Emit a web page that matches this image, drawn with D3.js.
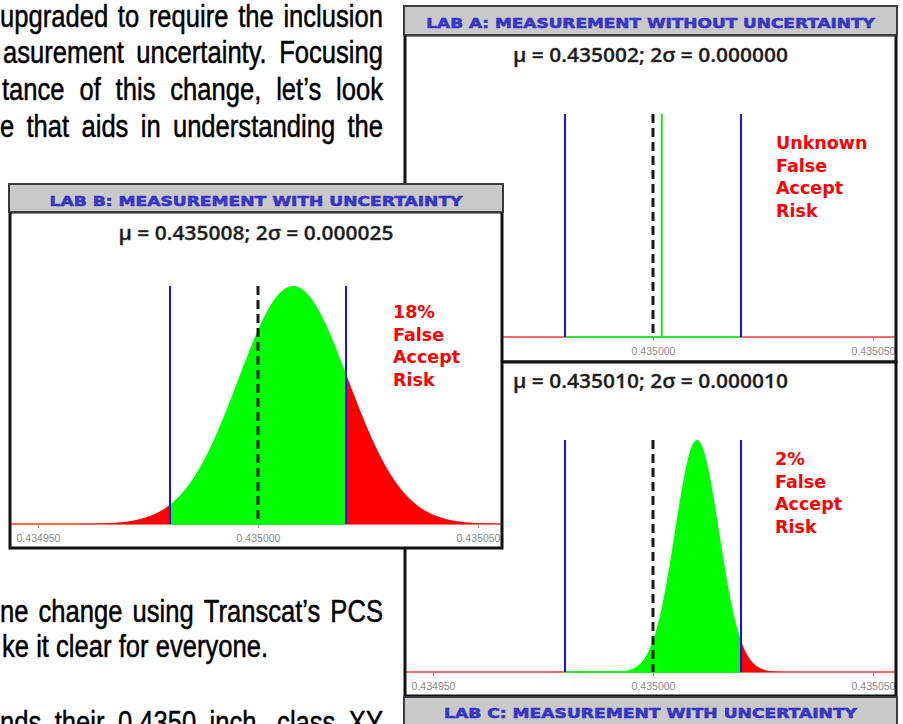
<!DOCTYPE html>
<html>
<head>
<meta charset="utf-8">
<title>Lab measurements</title>
<script src="https://cdn.jsdelivr.net/npm/d3@7"></script>
<style>
  body { margin: 0; background: #fff; }
  svg { display: block; }
</style>
</head>
<body>
<div id="page"></div>
<script>
// values
var labNames = ["LAB A: MEASUREMENT WITHOUT UNCERTAINTY",
                "LAB B: MEASUREMENT WITH UNCERTAINTY",
                "LAB C: MEASUREMENT WITH UNCERTAINTY"];
var means = [0.435002, 0.435008, 0.435010];
var twoSigmas = [0.000000, 0.000025, 0.000010];
var riskValues = ["Unknown", "18%", "2%"];
var riskWords = ["False", "Accept", "Risk"];
var specLimits = [0.434980, 0.435020];
var nominal = 0.435000;
var tickValues = [0.434950, 0.435000, 0.435050];

// text of the page behind the panels
var topLines = ["upgraded to require the inclusion",
                "asurement uncertainty. Focusing",
                "tance of this change, let\u2019s look",
                "e that aids in understanding the"];
var bottomLines = ["ne change using Transcat\u2019s PCS",
                   "ke it clear for everyone.",
                   "nds their 0.4350 inch, class XY"];

var width = 903, height = 724;

// where each panel sits on the page (A, B, C)
var layout = [
  {x: 405, w: 491, boxY: 35, boxH: 327, headY: 6, headH: 29, headBase: 28, titleBase: 62, top: 114, base: 337, riskX: 776, riskY: 149},
  {x: 10, w: 492, boxY: 212, boxH: 336, headY: 184, headH: 28, headBase: 206, titleBase: 240, top: 286, base: 524, riskX: 393, riskY: 318},
  {x: 405, w: 491, boxY: 362, boxH: 334, headY: 697, headH: 32, headBase: 718, titleBase: 388, top: 440, base: 672, riskX: 775, riskY: 465}
];

var svg = d3.select("#page").append("svg")
  .attr("width", width)
  .attr("height", height);

var defs = svg.append("defs");

/* ---------- body text, condensed and justified ---------- */
var bodyFont = "'Liberation Sans', Arial, sans-serif";
var textLayer = svg.append("g")
  .attr("fill", "#000")
  .attr("stroke", "#000").attr("stroke-width", 0.5)
  .style("font-family", bodyFont).style("font-size", "31px");

function measure(str) {
  var t = textLayer.append("text").text(str);
  var w = t.node().getComputedTextLength();
  t.remove();
  return w;
}

// squeeze factor so that the last short line spans the same width as in the picture
var sx = 266 / measure(bottomLines[1]);

function drawLine(str, x0, baseline, x1) {
  var words = str.split(" ");
  var widths = words.map(function(w) { return measure(w) * sx; });
  var gap = measure("a b") * sx - measure("ab") * sx;
  if (x1 != null) {
    gap = (x1 - x0 - d3.sum(widths)) / (words.length - 1);
  }
  var cx = x0;
  words.forEach(function(w, i) {
    textLayer.append("text")
      .attr("x", cx).attr("y", baseline)
      .attr("textLength", widths[i])
      .attr("lengthAdjust", "spacingAndGlyphs")
      .text(w);
    cx += widths[i] + gap;
  });
}

drawLine(topLines[0], 0, 27, 383);
drawLine(topLines[1], 3, 63, 383);
drawLine(topLines[2], 2, 100, 383);
drawLine(topLines[3], 0, 137, 383);
drawLine(bottomLines[0], 0, 622, 383);
drawLine(bottomLines[1], 2, 657, null);
drawLine(bottomLines[2], 0, 733, 383);

/* ---------- the three lab panels ---------- */
function drawPanel(i) {
  var g = layout[i];
  var mu = means[i], sigma = twoSigmas[i] / 2;
  var panel = svg.append("g");

  var x = d3.scaleLinear()
    .domain([tickValues[0], tickValues[2]])
    .range([g.x + 28, g.x + 468]);
  var y = d3.scaleLinear().domain([0, 1]).range([g.base, g.top]);

  // white chart box
  panel.append("rect")
    .attr("x", g.x).attr("y", g.boxY)
    .attr("width", g.w).attr("height", g.boxH)
    .attr("fill", "#fff");

  defs.append("clipPath").attr("id", "clip" + i)
    .append("rect")
    .attr("x", g.x + 1).attr("y", g.boxY + 1)
    .attr("width", g.w - 2).attr("height", g.boxH - 2);

  var plot = panel.append("g").attr("clip-path", "url(#clip" + i + ")");

  var lo = x.invert(g.x), hi = x.invert(g.x + g.w);

  // curve tails along the axis: red outside the limits, green inside
  plot.append("line")
    .attr("x1", g.x).attr("x2", g.x + g.w)
    .attr("y1", g.base).attr("y2", g.base)
    .attr("stroke", "#ff6b6b").attr("stroke-width", 2);
  plot.append("line")
    .attr("x1", x(specLimits[0])).attr("x2", x(specLimits[1]))
    .attr("y1", g.base).attr("y2", g.base)
    .attr("stroke", "#3cdc3c").attr("stroke-width", 2);

  if (sigma > 0) {
    var area = d3.area()
      .x(function(d) { return x(d); })
      .y0(g.base)
      .y1(function(d) { return y(Math.exp(-0.5 * Math.pow((d - mu) / sigma, 2))); });
    var segs = [[lo, specLimits[0], "#ff0000"],
                [specLimits[0], specLimits[1], "#00ff00"],
                [specLimits[1], hi, "#ff0000"]];
    segs.forEach(function(s) {
      var pts = d3.range(201).map(function(k) { return s[0] + (s[1] - s[0]) * k / 200; });
      plot.append("path").datum(pts)
        .attr("d", area)
        .attr("fill", s[2]);
    });
  }

  // specification limits
  plot.selectAll("line.spec").data(specLimits).enter().append("line")
    .attr("class", "spec")
    .attr("x1", function(d) { return x(d); }).attr("x2", function(d) { return x(d); })
    .attr("y1", g.top).attr("y2", g.base)
    .attr("stroke", "#1010ff").attr("stroke-width", 2);

  // nominal value
  plot.append("line")
    .attr("x1", x(nominal)).attr("x2", x(nominal))
    .attr("y1", g.top).attr("y2", g.base)
    .attr("stroke", "#1a1a1a").attr("stroke-width", 3)
    .attr("stroke-dasharray", "9,5");

  // no uncertainty: a single spike at the mean
  if (sigma === 0) {
    plot.append("line")
      .attr("x1", x(mu)).attr("x2", x(mu))
      .attr("y1", g.top).attr("y2", g.base)
      .attr("stroke", "#22e022").attr("stroke-width", 2);
  }

  // axis ticks and labels
  var axis = d3.axisBottom(x)
    .tickValues(tickValues)
    .tickSize(3)
    .tickFormat(d3.format(".6f"));
  var ax = plot.append("g")
    .attr("transform", "translate(0," + (g.base + 1) + ")")
    .call(axis);
  ax.select(".domain").remove();
  ax.selectAll(".tick line").attr("stroke", "#9a9a9a");
  ax.selectAll(".tick text")
    .attr("y", 10)
    .attr("fill", "#8a8a8a")
    .style("font-family", bodyFont)
    .style("font-size", "10.5px");

  // chart title
  plot.append("text")
    .attr("x", g.x + g.w / 2).attr("y", g.titleBase)
    .attr("text-anchor", "middle")
    .attr("textLength", 275).attr("lengthAdjust", "spacingAndGlyphs")
    .attr("fill", "#1c1c1c")
    .attr("stroke", "#333").attr("stroke-width", 0.3)
    .style("font-family", "'Open Sans', sans-serif")
    .style("font-weight", 600)
    .style("font-size", "19.5px")
    .text("\u03bc = " + mu.toFixed(6) + "; 2\u03c3 = " + twoSigmas[i].toFixed(6));

  // false accept risk note
  var note = plot.append("text")
    .attr("fill", "#ff0000")
    .style("font-family", "'DejaVu Sans', Verdana, sans-serif")
    .style("font-weight", "bold")
    .style("font-size", "17.5px");
  [riskValues[i]].concat(riskWords).forEach(function(w, k) {
    note.append("tspan")
      .attr("x", g.riskX).attr("y", g.riskY + k * 22.5)
      .text(w);
  });

  // box border
  panel.append("rect")
    .attr("x", g.x).attr("y", g.boxY)
    .attr("width", g.w).attr("height", g.boxH)
    .attr("fill", "none")
    .attr("stroke", "#111").attr("stroke-width", 3);

  // grey header bar
  panel.append("rect")
    .attr("x", g.x - 1).attr("y", g.headY)
    .attr("width", g.w + 2).attr("height", g.headH)
    .attr("fill", "#c9c9c9")
    .attr("stroke", "#3c3c3c").attr("stroke-width", 2);
  panel.append("text")
    .attr("x", g.x + g.w / 2).attr("y", g.headBase)
    .attr("text-anchor", "middle")
    .attr("textLength", labNames[i].length * 11.8)
    .attr("lengthAdjust", "spacingAndGlyphs")
    .attr("fill", "#3535c8")
    .attr("stroke", "#3535c8").attr("stroke-width", 0.6)
    .style("font-family", "'DejaVu Sans', Arial, sans-serif")
    .style("font-weight", "bold")
    .style("font-size", "14.5px")
    .text(labNames[i]);
}

// B lies on top of A and C
drawPanel(0);
drawPanel(2);
drawPanel(1);
</script>
</body>
</html>
